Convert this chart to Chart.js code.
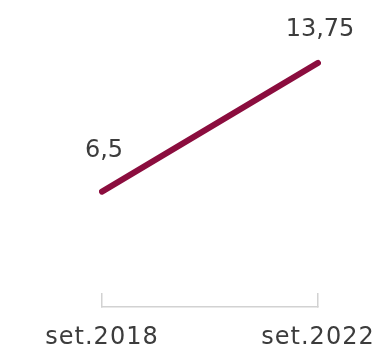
<!DOCTYPE html>
<html>
<head>
<meta charset="utf-8">
<script src="https://cdn.jsdelivr.net/npm/chart.js@4.4.1/dist/chart.umd.min.js"></script>
<style>
  html, body { margin: 0; padding: 0; background: #ffffff; }
  #wrap { width: 376px; height: 349px; position: relative; }
</style>
</head>
<body>
<div id="wrap"><canvas id="chart"></canvas></div>
<script>
// --- data ---
const periods = ['set.2018', 'set.2022'];
const rates = [6.5, 13.75];

// --- style ---
const lineColor = '#8b0d3e';
const bracketColor = '#d2d2d2';
const textColor = '#3c3c3c';
const valueLift = [42, 35]; // px above each point

// value labels above the points, pt-BR decimal comma
const valueLabels = {
    id: 'valueLabels',
    afterDatasetsDraw(chart) {
        const ctx = chart.ctx;
        const meta = chart.getDatasetMeta(0);
        ctx.save();
        ctx.letterSpacing = '0px';
        ctx.font = '24px "DejaVu Sans"';
        ctx.fillStyle = textColor;
        ctx.textAlign = 'center';
        ctx.textBaseline = 'middle';
        meta.data.forEach((pt, i) => {
            const txt = String(rates[i]).replace('.', ',');
            ctx.fillText(txt, pt.x + 2, pt.y - valueLift[i] + 1.5);
        });
        ctx.restore();
    }
};

// slightly wider tick text, like the original
const tickSpacing = {
    id: 'tickSpacing',
    beforeDraw(chart) { chart.ctx.letterSpacing = '1px'; },
    afterDraw(chart) { chart.ctx.letterSpacing = '0px'; }
};

new Chart(document.getElementById('chart'), {
    type: 'line',
    data: {
        labels: periods,
        datasets: [{
            data: rates,
            borderColor: lineColor,
            borderWidth: 6,
            borderCapStyle: 'round',
            pointRadius: 0,
            tension: 0
        }]
    },
    options: {
        responsive: true,
        maintainAspectRatio: false,
        animation: false,
        layout: { padding: { top: 23, left: 102, right: 58, bottom: 0 } },
        plugins: { legend: { display: false }, tooltip: { enabled: false } },
        scales: {
            y: { display: false, min: 0, max: 16 },
            x: {
                offset: false,
                afterFit(scale) {
                    scale.height = 42;
                    // labels fit inside the layout padding already
                    scale.paddingLeft = 0;
                    scale.paddingRight = 0;
                },
                border: { display: true, color: bracketColor, width: 1.5 },
                grid: {
                    display: true,
                    drawOnChartArea: false,
                    drawTicks: true,
                    tickLength: -14,
                    color: bracketColor,
                    lineWidth: 1.5
                },
                ticks: {
                    padding: 30,
                    maxRotation: 0,
                    autoSkip: false,
                    color: textColor,
                    font: { family: 'DejaVu Sans', size: 24 }
                }
            }
        }
    },
    plugins: [valueLabels, tickSpacing]
});
</script>
</body>
</html>
